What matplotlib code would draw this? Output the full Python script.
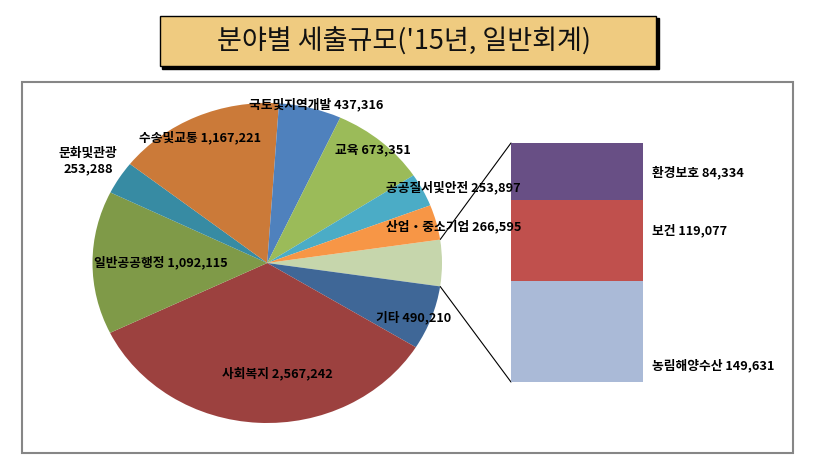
import matplotlib
matplotlib.use("Agg")
import matplotlib.pyplot as plt
from matplotlib.patches import Rectangle, ConnectionPatch
import numpy as np

plt.rcParams['font.family'] = ['Noto Sans CJK KR', 'DejaVu Sans']

# ---- data ----
pie_labels = ['기타', '사회복지', '일반공공행정', '문화및관광', '수송및교통',
              '국토및지역개발', '교육', '공공질서및안전', '산업・중소기업']
pie_values = [490210, 2567242, 1092115, 253288, 1167221,
              437316, 673351, 253897, 266595]
bar_labels = ['농림해양수산', '보건', '환경보호']
bar_values = [149631, 119077, 84334]
title = "분야별 세출규모('15년, 일반회계)"

# ---- styles ----
pie_colors = ['#3F6797', '#9C413F', '#7F9A48', '#378BA3', '#CB7A39',
              '#4F81BD', '#9BBB59', '#4BACC6', '#F79646']
other_color = '#C6D6AC'
bar_colors = ['#AABAD7', '#C0504D', '#684F85']

W, H = 832, 461
fig = plt.figure(figsize=(W / 100, H / 100), dpi=100)

def fr(x0, y0, x1, y1):
    return [x0 / W, 1 - y1 / H, (x1 - x0) / W, (y1 - y0) / H]

# pie axes (elliptical pie, as in the reference)
pax = fig.add_axes(fr(92.5, 103, 442, 423), zorder=1)
other_total = sum(bar_values)
vals = [other_total] + pie_values
cols = [other_color] + pie_colors
total = sum(vals)
other_deg = other_total / total * 360
wedges, _ = pax.pie(vals, colors=cols, startangle=other_deg / 2,
                    counterclock=False, radius=1,
                    wedgeprops=dict(linewidth=0))
pax.set_aspect('auto')
pax.set_xlim(-1, 1)
pax.set_ylim(-1, 1)
pax.axis('off')

# bar axes
bax = fig.add_axes(fr(511, 143, 643, 382), zorder=1)
bottoms = np.concatenate([[0], np.cumsum(bar_values)[:-1]])
bax.bar([0] * len(bar_values), bar_values, bottom=bottoms, width=1,
        color=bar_colors, linewidth=0)
bax.set_xlim(-0.5, 0.5)
bax.set_ylim(0, other_total)
bax.axis('off')

# connector lines
a = np.deg2rad(other_deg / 2)
for sgn, yb in [(1, other_total), (-1, 0)]:
    con = ConnectionPatch(xyA=(np.cos(a), sgn * np.sin(a)), coordsA=pax.transData,
                          xyB=(-0.5, yb), coordsB=bax.transData,
                          color='black', lw=0.8)
    fig.add_artist(con)

# overlay axes in pixel coordinates
ov = fig.add_axes([0, 0, 1, 1], zorder=3)
ov.set_xlim(0, W)
ov.set_ylim(H, 0)
ov.axis('off')
ov.patch.set_alpha(0)

# chart frame
ov.add_patch(Rectangle((22, 82), 771, 371, fill=False, edgecolor='#868686', lw=1.5))

# title box with shadow
ov.add_patch(Rectangle((162, 18), 497, 51, facecolor='black', edgecolor='black', lw=1))
ov.add_patch(Rectangle((160, 16), 496, 50, facecolor='#EFCB80', edgecolor='black', lw=1))
ov.text(404, 42, title, ha='center', va='center', fontsize=19.5, color='#111111')

# pie labels
pie_label_pos = {
    '기타': (414, 318),
    '사회복지': (277, 374),
    '일반공공행정': (161, 263),
    '문화및관광': (88, 161),
    '수송및교통': (200, 138),
    '국토및지역개발': (316, 105),
    '교육': (373, 150),
    '공공질서및안전': (453, 188),
    '산업・중소기업': (454, 227),
}
for lab, v in zip(pie_labels, pie_values):
    x, y = pie_label_pos[lab]
    sep = '\n' if lab == '문화및관광' else ' '
    ov.text(x, y, f'{lab}{sep}{v:,}', ha='center', va='center', fontsize=9.2,
            fontweight='bold', color='black', linespacing=1.25)

bar_label_y = {'농림해양수산': 366, '보건': 231, '환경보호': 172}
for lab, v in zip(bar_labels, bar_values):
    ov.text(652, bar_label_y[lab], f'{lab} {v:,}', ha='left', va='center',
            fontsize=9.2, fontweight='bold', color='black')

fig.savefig('out.png', dpi=100)
